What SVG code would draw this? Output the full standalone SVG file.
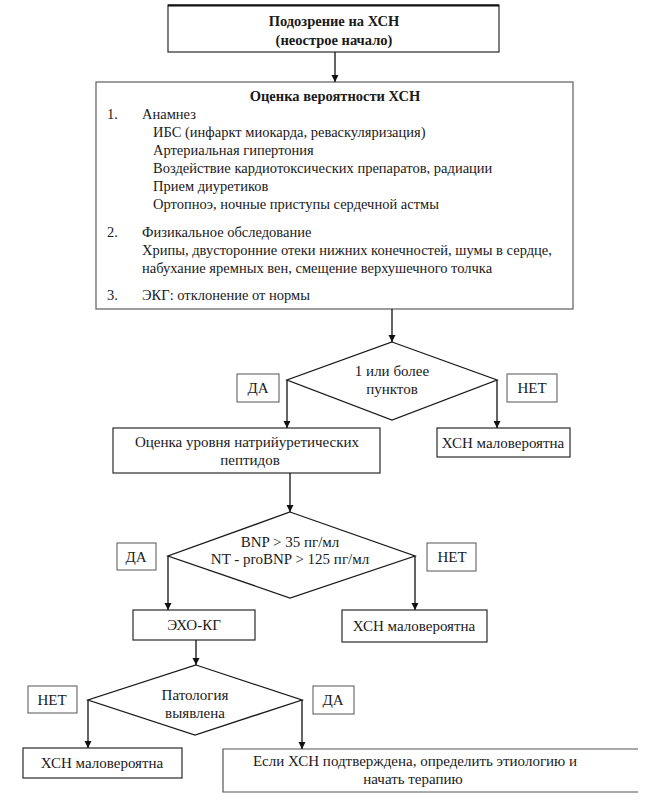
<svg xmlns="http://www.w3.org/2000/svg" width="652" height="804" viewBox="0 0 652 804">
<defs>
<style>
.t{font-size:15px;}
.s{font-size:14.5px;}
.b{font-size:14.5px;font-weight:bold;}
.m{text-anchor:middle;}
.box{fill:#fff;stroke:#2a2a2a;stroke-width:1.2;}
.gbox{fill:#fff;stroke:#6a6a6a;stroke-width:1.3;}
.lbl{fill:#fff;stroke:#555;stroke-width:1;}
.dia{fill:#fff;stroke:#1a1a1a;stroke-width:1.3;}
.c{stroke:#111;stroke-width:1.3;fill:none;marker-end:url(#ah);}
</style>
<marker id="ah" markerUnits="userSpaceOnUse" markerWidth="8" markerHeight="8" refX="7" refY="4" orient="auto">
<path d="M0,0.5 L7,4 L0,7.5 z" fill="#111"/>
</marker>
</defs>
<rect width="652" height="804" fill="#fff"/>
<g font-family="'Liberation Serif', 'Times New Roman', 'DejaVu Serif', serif" fill="#1a1a1a">

<g id="start">
<rect class="box" x="168" y="5" width="331" height="47"/>
<line x1="168" y1="5.5" x2="499" y2="5.5" stroke="#111" stroke-width="2"/>
<text class="b m" x="334" y="26">Подозрение на ХСН</text>
<text class="b m" x="334" y="45">(неострое начало)</text>
</g>

<g id="assessment">
<rect class="gbox" x="96" y="82" width="477" height="227"/>
<text class="b m" x="335" y="101">Оценка вероятности ХСН</text>
<text class="s" x="107" y="119">1.</text>
<text class="s" x="142" y="119">Анамнез</text>
<text class="s" x="153" y="137">ИБС (инфаркт миокарда, реваскуляризация)</text>
<text class="s" x="153" y="155">Артериальная гипертония</text>
<text class="s" x="153" y="173">Воздействие кардиотоксических препаратов, радиации</text>
<text class="s" x="153" y="191">Прием диуретиков</text>
<text class="s" x="153" y="209">Ортопноэ, ночные приступы сердечной астмы</text>
<text class="s" x="107" y="237">2.</text>
<text class="s" x="142" y="237">Физикальное обследование</text>
<text class="s" x="142" y="255">Хрипы, двусторонние отеки нижних конечностей, шумы в сердце,</text>
<text class="s" x="142" y="273">набухание яремных вен, смещение верхушечного толчка</text>
<text class="s" x="107" y="300">3.</text>
<text class="s" x="142" y="300">ЭКГ: отклонение от нормы</text>
</g>

<g id="decision1">
<polygon class="dia" points="392,342 497,380 392,420 287,380"/>
<text class="t m" x="392" y="376">1 или более</text>
<text class="t m" x="392" y="394">пунктов</text>
</g>
<g id="yes1">
<rect class="lbl" x="237" y="374" width="42" height="28"/>
<text class="t m" x="258" y="393">ДА</text>
</g>
<g id="no1">
<rect class="lbl" x="507" y="374" width="50" height="28"/>
<text class="t m" x="532" y="393">НЕТ</text>
</g>

<g id="peptides">
<rect class="box" x="113" y="428" width="267" height="45"/>
<text class="t m" x="247" y="447">Оценка уровня натрийуретических</text>
<text class="t m" x="250" y="465">пептидов</text>
</g>
<g id="unlikely1">
<rect class="box" x="437" y="428" width="133" height="29"/>
<text class="t m" x="503" y="448">ХСН маловероятна</text>
</g>

<g id="decision2">
<polygon class="dia" points="290,512 415,556 290,598 168,556"/>
<text class="t m" x="290" y="547">BNP &gt; 35 пг/мл</text>
<text class="t m" x="290" y="564">NT - proBNP &gt; 125 пг/мл</text>
</g>
<g id="yes2">
<rect class="lbl" x="117" y="543" width="39" height="27"/>
<text class="t m" x="136" y="562">ДА</text>
</g>
<g id="no2">
<rect class="lbl" x="427" y="543" width="49" height="28"/>
<text class="t m" x="452" y="562">НЕТ</text>
</g>

<g id="echo">
<rect class="box" x="133" y="610" width="122" height="30"/>
<text class="t m" x="194" y="630">ЭХО-КГ</text>
</g>
<g id="unlikely2">
<rect class="box" x="342" y="610" width="145" height="32"/>
<text class="t m" x="414" y="631">ХСН маловероятна</text>
</g>

<g id="decision3">
<polygon class="dia" points="196,665 302,700 195,735 88,700"/>
<text class="t m" x="195" y="700">Патология</text>
<text class="t m" x="195" y="718">выявлена</text>
</g>
<g id="no3">
<rect class="lbl" x="28" y="686" width="49" height="27"/>
<text class="t m" x="52" y="705">НЕТ</text>
</g>
<g id="yes3">
<rect class="lbl" x="313" y="686" width="41" height="28"/>
<text class="t m" x="333" y="705">ДА</text>
</g>

<g id="unlikely3">
<rect class="box" x="23" y="748" width="159" height="30"/>
<text class="t m" x="102" y="768">ХСН маловероятна</text>
</g>
<g id="confirmed">
<path d="M638,749 H223 V792 H638" fill="#fff" stroke="#555" stroke-width="1.2"/>
<text class="t m" x="415" y="766">Если ХСН подтверждена, определить этиологию и</text>
<text class="t m" x="413" y="784">начать терапию</text>
</g>
</g>

<g id="connectors">
<line class="c" x1="335" y1="52" x2="335" y2="82"/>
<line class="c" x1="392" y1="309" x2="392" y2="342"/>
<line class="c" x1="287" y1="380" x2="287" y2="428"/>
<line class="c" x1="497" y1="380" x2="497" y2="428"/>
<line class="c" x1="290" y1="473" x2="290" y2="512"/>
<line class="c" x1="168" y1="556" x2="168" y2="610"/>
<line class="c" x1="415" y1="556" x2="415" y2="610"/>
<line class="c" x1="196" y1="640" x2="196" y2="665"/>
<line class="c" x1="88" y1="700" x2="88" y2="748"/>
<line class="c" x1="302" y1="700" x2="302" y2="749"/>
</g>
</svg>
